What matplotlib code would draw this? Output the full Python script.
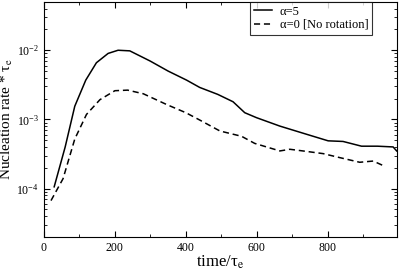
import matplotlib
matplotlib.use("Agg")
import matplotlib.pyplot as plt
from matplotlib.ticker import MultipleLocator, LogLocator, NullFormatter

plt.rcParams["font.family"] = ["Liberation Serif", "DejaVu Serif"]
plt.rcParams["mathtext.fontset"] = "stix"

# alpha = 5
t_rot = [29, 60, 87, 118, 148, 181, 209, 242, 299, 350, 402, 439, 490, 533, 566, 599,
         665, 740, 801, 843, 895, 940, 984, 994]
rate_rot = [1.06e-4, 4.0e-4, 1.55e-3, 3.7e-3, 6.6e-3, 9.0e-3, 1.0e-2, 9.8e-3, 7.0e-3,
            5.0e-3, 3.7e-3, 2.9e-3, 2.3e-3, 1.8e-3, 1.25e-3, 1.06e-3,
            8.0e-4, 6.1e-4, 4.9e-4, 4.8e-4, 4.1e-4, 4.1e-4, 4.0e-4, 3.5e-4]

# alpha = 0 (no rotation)
t_norot = [20, 54, 87, 120, 158, 200, 236, 280, 346, 400, 439, 496, 557, 594, 665, 693,
           730, 787, 834, 890, 928, 956]
rate_norot = [6.7e-5, 1.39e-4, 5.2e-4, 1.18e-3, 1.93e-3, 2.6e-3, 2.65e-3, 2.35e-3, 1.64e-3,
              1.25e-3, 9.8e-4, 6.8e-4, 5.7e-4, 4.5e-4, 3.5e-4, 3.7e-4,
              3.5e-4, 3.2e-4, 2.8e-4, 2.4e-4, 2.5e-4, 2.15e-4]

fig = plt.figure(figsize=(3.99, 2.72), dpi=100)
ax = fig.add_axes([0.110, 0.129, 0.885, 0.864])

ax.plot(t_rot, rate_rot, color="black", lw=1.1, label="α=5")
ax.plot(t_norot, rate_norot, color="black", lw=1.1, ls=(0, (4, 2.5)),
        label="α=0 [No rotation]")

ax.set_yscale("log")
ax.set_xlim(0, 995)
ax.set_ylim(2e-5, 5e-2)
ax.xaxis.set_major_locator(MultipleLocator(200))
ax.xaxis.set_minor_locator(MultipleLocator(100))
ax.yaxis.set_major_locator(LogLocator(base=10, numticks=10))
ax.yaxis.set_minor_locator(LogLocator(base=10, subs=range(2, 10), numticks=10))
ax.yaxis.set_minor_formatter(NullFormatter())
ax.tick_params(which="both", direction="in", top=True, right=True, labelsize=8.5)
ax.tick_params(which="major", length=4)
ax.tick_params(which="minor", length=2)

ax.set_xlabel(r"time/τ$_{\rm e}$", fontsize=12, labelpad=0)
ax.set_ylabel(r"Nucleation rate * τ$_{\rm e}$", fontsize=11, labelpad=1)

ax.legend(loc="upper right", fontsize=9, frameon=True, fancybox=False,
          edgecolor="black", handlelength=1.5, handletextpad=0.6,
          borderaxespad=0.0, bbox_to_anchor=(0.93, 1.0), labelspacing=0.1,
          borderpad=0.3).get_frame().set_linewidth(0.8)

fig.savefig("out.png", dpi=100)
